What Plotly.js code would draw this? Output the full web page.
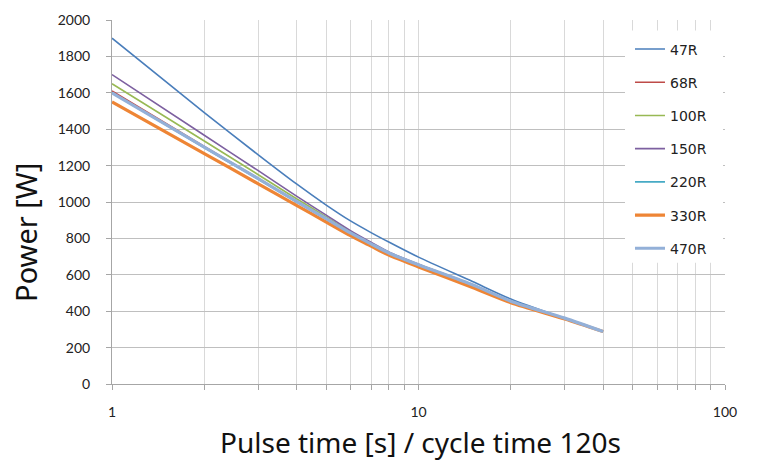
<!DOCTYPE html>
<html>
<head>
<meta charset="utf-8">
<script src="https://cdn.plot.ly/plotly-3.0.1.min.js"></script>
<style>html,body{margin:0;padding:0;background:#fff;}#chart{width:760px;height:464px;}</style>
</head>
<body>
<div id="chart"></div>
<script>
const pulseTime = [1, 2, 3, 4, 5, 6, 7, 8, 10, 15, 20, 30, 40];
const seriesNames = ["47R", "68R", "100R", "150R", "220R", "330R", "470R"];
const p47R  = [1900, 1491, 1259, 1099, 983, 896, 832, 780, 697, 563, 467, 360, 288];
const p68R  = [1610, 1305, 1130, 1004, 908, 828, 768, 718, 653, 544, 454, 361, 288];
const p100R = [1650, 1335, 1150, 1018, 918, 836, 774, 722, 656, 545, 454, 361, 288];
const p150R = [1700, 1367, 1172, 1032, 928, 843, 779, 726, 658, 546, 455, 361, 288];
const p220R = [1600, 1298, 1125, 1000, 905, 826, 766, 716, 652, 543, 453, 361, 288];
const p330R = [1550, 1266, 1100, 982, 890, 815, 758, 708, 643, 530, 447, 357, 288];
const p470R = [1600, 1302, 1128, 1003, 908, 830, 770, 720, 655, 545, 455, 362, 288];
const xTickVals = [1,2,3,4,5,6,7,8,9,10,20,30,40,50,60,70,80,90,100];
const xTickText = ["1","","","","","","","","","10","","","","","","","","","100"];
const xTitle = "Pulse time [s] / cycle time 120s";
const yTitle = "Power [W]";

const values = [p47R, p68R, p100R, p150R, p220R, p330R, p470R];
const colors = ["#4A7EBB", "#BE4B48", "#98B954", "#7D60A0", "#46AAC5", "#EE8535", "#93B0D8"];
const widths = [1.6, 1.6, 1.6, 1.6, 1.6, 3.2, 3.2];

const traces = seriesNames.map((n, i) => ({
  x: pulseTime, y: values[i], name: n, type: "scatter", mode: "lines",
  line: {color: colors[i], width: widths[i], shape: "spline", smoothing: 0.7},
  legendgroup: n
}));

const layout = {
  width: 760, height: 464,
  margin: {l: 112, r: 35, t: 20, b: 80},
  paper_bgcolor: "#fff", plot_bgcolor: "#fff",
  showlegend: true,
  legend: {
    x: 0.845, y: 0.963, xanchor: "left", yanchor: "top",
    bgcolor: "rgba(255,255,255,0)", borderwidth: 0,
    font: {family: "DejaVu Sans", size: 14, color: "#222"},
    tracegroupgap: 12, traceorder: "grouped"
  },
  shapes: [{
    type: "rect", xref: "paper", yref: "paper", layer: "above",
    x0: (625 - 112) / 613, x1: (723 - 112) / 613,
    y0: (384.5 - 263) / 365, y1: (384.5 - 30) / 365,
    fillcolor: "#ffffff", line: {width: 0}
  }],
  annotations: [
    {text: xTitle, xref: "paper", yref: "paper", x: (420 - 112) / 613, y: (384.5 - 443) / 365,
     xanchor: "center", yanchor: "middle", showarrow: false,
     font: {family: "Noto Sans", size: 28, color: "#111"}},
    {text: yTitle, xref: "paper", yref: "paper", x: (26 - 112) / 613, y: (384.5 - 233) / 365,
     xanchor: "center", yanchor: "middle", showarrow: false, textangle: -90,
     font: {family: "Noto Sans", size: 29, color: "#111"}}
  ],
  xaxis: {
    type: "log", range: [0, 2],
    tickvals: xTickVals, ticktext: xTickText,
    showgrid: true, gridcolor: "#d9d9d9", gridwidth: 1,
    showline: true, linecolor: "#a6a6a6", linewidth: 1,
    ticks: "outside", ticklen: 5, tickcolor: "#a6a6a6",
    ticklabelstandoff: 10,
    zeroline: false,
    tickfont: {family: "Lato", size: 14, color: "#222"}
  },
  yaxis: {
    range: [0, 2000], dtick: 200,
    showgrid: true, gridcolor: "#bfbfbf", gridwidth: 1,
    showline: true, linecolor: "#a6a6a6", linewidth: 1,
    ticks: "outside", ticklen: 5, tickcolor: "#a6a6a6",
    ticklabelstandoff: 13,
    zeroline: false,
    tickfont: {family: "Lato", size: 14, color: "#222"}
  }
};
Plotly.newPlot("chart", traces, layout, {displayModeBar: false, staticPlot: true});
</script>
</body>
</html>
